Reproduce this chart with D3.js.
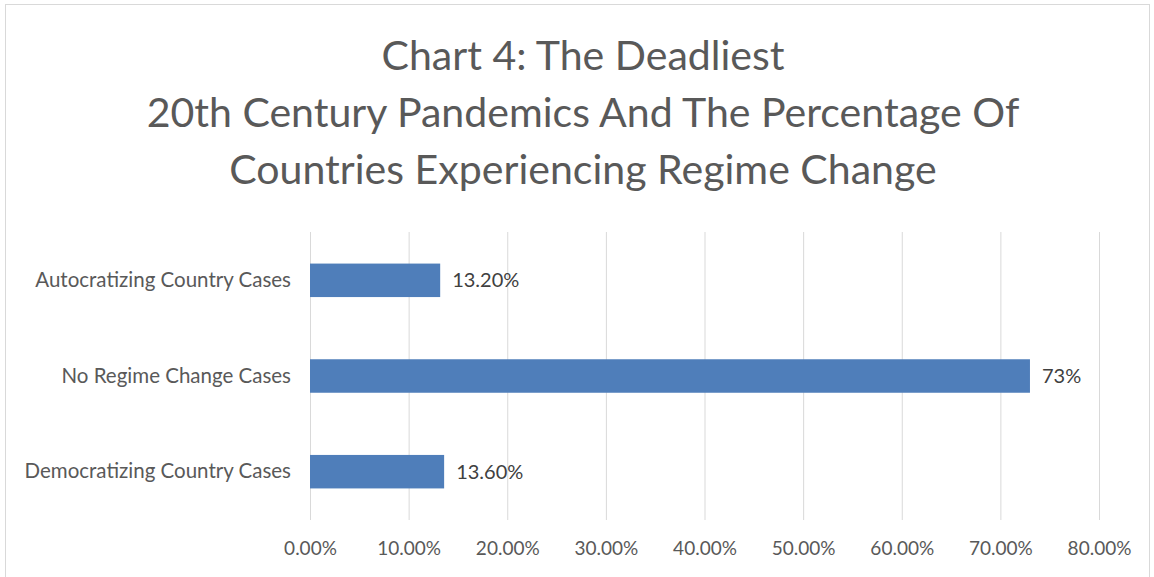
<!DOCTYPE html>
<html><head><meta charset="utf-8">
<script src="https://cdn.jsdelivr.net/npm/d3@7"></script>
<style>body{margin:0;background:#fff}svg{display:block}</style>
</head><body>
<script>
const categories = ["Autocratizing Country Cases", "No Regime Change Cases", "Democratizing Country Cases"];
const values = [13.2, 73, 13.6];
const valueLabels = ["13.20%", "73%", "13.60%"];
const tickValues = [0, 10, 20, 30, 40, 50, 60, 70, 80];
const titleLines = ["Chart 4: The Deadliest", "20th Century Pandemics And The Percentage Of", "Countries Experiencing Regime Change"];

const W = 1154, H = 577;
const svg = d3.select("body").append("svg").attr("width", W).attr("height", H);
svg.append("rect").attr("x", 5.5).attr("y", 4.5).attr("width", 1144).attr("height", 580)
  .attr("fill", "#fff").attr("stroke", "#d9d9d9");

const font = "Lato, 'Open Sans', sans-serif";
const grey = "#595959";

const x = d3.scaleLinear().domain([0, 80]).range([310, 1099]);
const y = d3.scaleBand().domain(categories).range([232, 520]).paddingInner(0.65).paddingOuter(0.33);

// title
const tg = svg.append("g");
const tl = tg.selectAll("text").data(titleLines).join("text")
  .attr("x", 583).attr("y", (d, i) => 70 + i * 57)
  .attr("text-anchor", "middle").attr("fill", grey)
  .style("font-family", font).style("font-size", "36px").text(d => d);
const len = tl.nodes()[1].getComputedTextLength();
tl.style("font-size", (36 * 873 / len) + "px");

// gridlines
svg.append("g").selectAll("line").data(tickValues).join("line")
  .attr("x1", d => x(d) + 0.5).attr("x2", d => x(d) + 0.5)
  .attr("y1", 232).attr("y2", 520).attr("stroke", "#d9d9d9").attr("stroke-width", 1);

// x axis labels
const xa = svg.append("g").attr("transform", "translate(0,538)")
  .call(d3.axisBottom(x).tickValues(tickValues).tickSize(0).tickFormat(d => d.toFixed(2) + "%"));
xa.select(".domain").remove();
xa.selectAll("text").attr("fill", grey).style("font-family", font).style("font-size", "19px");

// y axis labels
const ya = svg.append("g").attr("transform", "translate(291,0)")
  .call(d3.axisLeft(y).tickSize(0).tickPadding(0));
ya.select(".domain").remove();
ya.selectAll("text").attr("fill", grey).style("font-family", font).style("font-size", "20.5px");

// bars
svg.append("g").selectAll("rect").data(values).join("rect")
  .attr("x", x(0)).attr("y", (d, i) => y(categories[i]))
  .attr("width", d => x(d) - x(0)).attr("height", y.bandwidth())
  .attr("fill", "#4F7EBA");

// value labels
svg.append("g").selectAll("text").data(values).join("text")
  .attr("x", d => x(d) + 12).attr("y", (d, i) => y(categories[i]) + y.bandwidth() / 2)
  .attr("dy", "0.35em").attr("fill", "#404040")
  .style("font-family", font).style("font-size", "20px").text((d, i) => valueLabels[i]);
</script>
</body></html>
